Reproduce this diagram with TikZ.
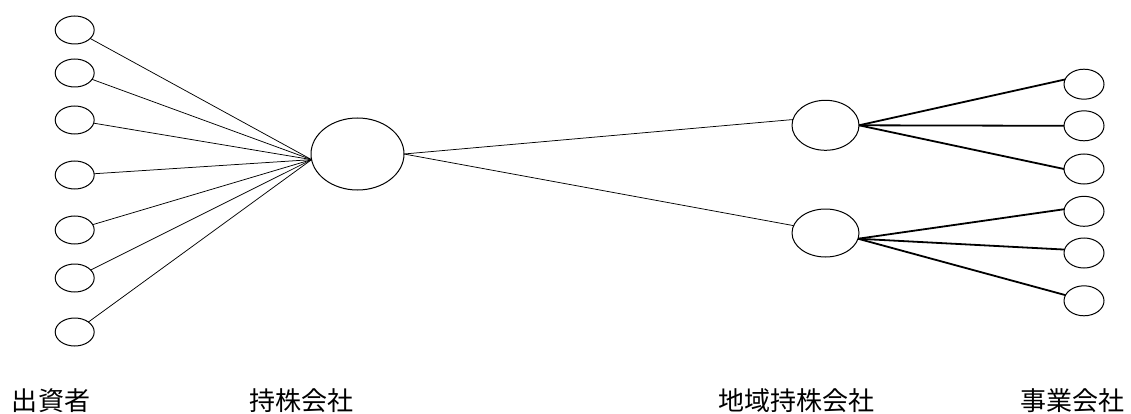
\documentclass[tikz,border=0pt]{standalone}
\usepackage{fontspec}
\newfontfamily\cjk{Noto Sans CJK JP}
\usetikzlibrary{shapes.geometric}
\begin{document}
\begin{tikzpicture}[x=1pt,y=-1pt,
  oval/.style={draw,ellipse,inner sep=0pt,outer sep=0pt,line width=1pt},
  small/.style={oval,minimum width=39pt,minimum height=28pt},
  rsmall/.style={oval,minimum width=40pt,minimum height=30pt},
  thin/.style={line width=0.75pt},
  thick/.style={line width=1.8pt},
  lbl/.style={font=\cjk\fontsize{26pt}{26pt}\selectfont,anchor=base,inner sep=0pt}]
\useasboundingbox (0,0) rectangle (1131,414);
\clip (0,0) rectangle (1131,414);
% investors
\node[small] (a1) at (74.7,30) {};
\node[small] (a2) at (74.7,73) {};
\node[small] (a3) at (74.7,120) {};
\node[small] (a4) at (74.7,175) {};
\node[small] (a5) at (74.7,230) {};
\node[small] (a6) at (74.7,278) {};
\node[small] (a7) at (74.7,332) {};
% holding company
\node[oval,minimum width=93pt,minimum height=72pt] (hub) at (357.5,154) {};
% regional holding companies
\node[oval,minimum width=67pt,minimum height=50pt] (r1) at (825.5,125.3) {};
\node[oval,minimum width=67pt,minimum height=48pt] (r2) at (825.5,233) {};
% operating companies
\node[rsmall] (s1) at (1084,84.2) {};
\node[rsmall] (s2) at (1084,125.8) {};
\node[rsmall] (s3) at (1084,169) {};
\node[rsmall] (s4) at (1084,211.3) {};
\node[rsmall] (s5) at (1084,253) {};
\node[rsmall] (s6) at (1084,300.8) {};
% connectors
\foreach \i in {1,...,7} \draw[thin] (a\i) -- (hub.187);
\draw[thin] (hub.east) -- (r1.170);
\draw[thin] (hub.east) -- (r2.167);
\draw[thick] (r1.east) -- (s1.166);
\draw[thick] (r1.east) -- (s2.west);
\draw[thick] (r1.east) -- (s3.west);
\draw[thick] (r2.350) -- (s4.174);
\draw[thick] (r2.350) -- (s5.170);
\draw[thick] (r2.350) -- (s6.163);
% labels
\node[lbl] (l1) at (51,410) {出資者};
\node[lbl] (l2) at (301,410) {持株会社};
\node[lbl] (l3) at (796,410) {地域持株会社};
\node[lbl] (l4) at (1072,410) {事業会社};
\end{tikzpicture}
\end{document}
